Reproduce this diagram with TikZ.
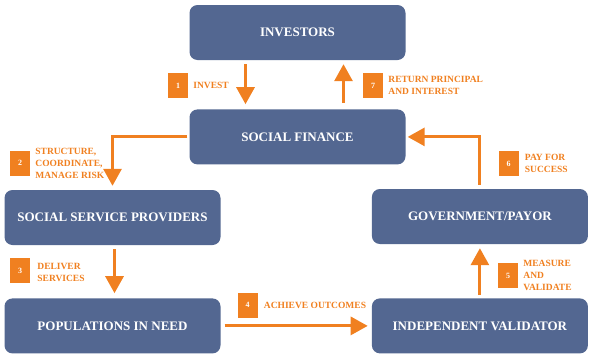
\documentclass[tikz,border=0pt]{standalone}
\usepackage{fontspec}
\setmainfont{Liberation Serif}
\usetikzlibrary{arrows.meta, positioning}
\definecolor{slate}{RGB}{83,103,145}
\definecolor{tang}{RGB}{240,128,32}
\tikzset{
    block/.style={rectangle, rounded corners=8pt, minimum width=216pt, minimum height=55pt, align=center, fill=slate, text=white, font=\fontsize{13}{15}\selectfont\bfseries},
    badge/.style={rectangle, minimum width=20pt, minimum height=25pt, inner sep=0pt, fill=tang, text=white, font=\fontsize{8}{9}\selectfont\bfseries},
    note/.style={inner sep=0pt, align=left, text=tang, font=\fontsize{9.5}{12}\selectfont\bfseries},
    arrow/.style={draw=tang, line width=3pt, -{Triangle[width=18pt,length=17pt]}}
}
\begin{document}
\begin{tikzpicture}[node distance=49pt]
    \useasboundingbox (0,0) rectangle (592pt,-359pt);
    \node (investors) [block] at (297.5pt,-32.5pt) {INVESTORS};
    \node (finance) [block, below=of investors] {SOCIAL FINANCE};
    \node (providers) [block] at (112.5pt,-217.5pt) {SOCIAL SERVICE PROVIDERS};
    \node (populations) [block, below=53pt of providers] {POPULATIONS IN NEED};
    \node (validator) [block, right=151pt of populations] {INDEPENDENT VALIDATOR};
    \node (payor) [block, above=54pt of validator] {GOVERNMENT/PAYOR};

    \node (one) [badge] at (178pt,-85.5pt) {1};
    \node (two) [badge] at (20pt,-163pt) {2};
    \node (three) [badge] at (20pt,-270.5pt) {3};
    \node (four) [badge] at (247.5pt,-305pt) {4};
    \node (five) [badge] at (508pt,-275.5pt) {5};
    \node (six) [badge] at (508.5pt,-163.5pt) {6};
    \node (seven) [badge] at (373pt,-85.5pt) {7};

    \node (invest) [note, right=5pt of one] {INVEST};
    \node (structure) [note, right=5pt of two] {STRUCTURE,\\COORDINATE,\\MANAGE RISK};
    \node (deliver) [note, right=7pt of three, yshift=-2pt] {DELIVER\\SERVICES};
    \node (achieve) [note, right=6pt of four] {ACHIEVE OUTCOMES};
    \node (measure) [note, right=5pt of five] {MEASURE\\AND\\VALIDATE};
    \node (pay) [note, right=6pt of six] {PAY FOR\\SUCCESS};
    \node (return) [note, right=5pt of seven] {RETURN PRINCIPAL\\AND INTEREST};

    \draw [arrow] ([xshift=-52pt,yshift=-4pt]investors.south) -- ([xshift=-52pt,yshift=5pt]finance.north);
    \draw [arrow] ([xshift=-2pt]finance.west) -| ([yshift=4pt]providers.north);
    \draw [arrow] ([xshift=2pt,yshift=-4pt]providers.south) -- ([xshift=2pt,yshift=5pt]populations.north);
    \draw [arrow] ([xshift=4pt]populations.east) -- ([xshift=-4pt]validator.west);
    \draw [arrow] ([yshift=3pt]validator.north) -- ([yshift=-4pt]payor.south);
    \draw [arrow] ([yshift=4pt]payor.north) |- ([xshift=2pt]finance.east);
    \draw [arrow] ([xshift=46pt,yshift=6pt]finance.north) -- ([xshift=46pt,yshift=-4pt]investors.south);
\end{tikzpicture}
\end{document}
